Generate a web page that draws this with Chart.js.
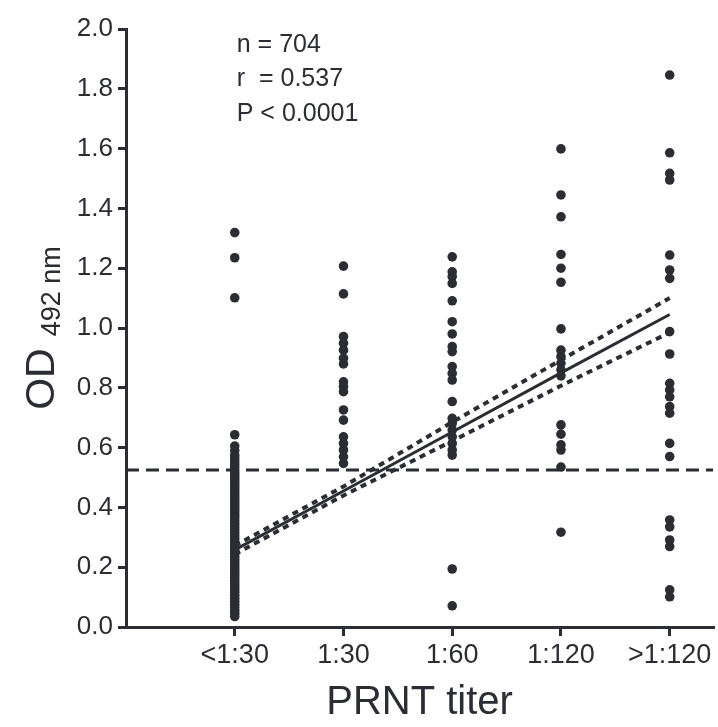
<!DOCTYPE html>
<html>
<head>
<meta charset="utf-8">
<script src="https://cdn.jsdelivr.net/npm/chart.js@4.4.1/dist/chart.umd.min.js"></script>
<style>
  body { margin: 0; background: #ffffff; }
  canvas { display: block; }
</style>
</head>
<body>
<canvas id="grafica" width="718" height="727"></canvas>
<script>
// categorías del eje X
const categorias = ["<1:30", "1:30", "1:60", "1:120", ">1:120"];

// valores de OD 492 nm leídos por columna
const odMenor130 = [
  0.035, 0.045, 0.055, 0.065, 0.075, 0.085, 0.095, 0.105, 0.115, 0.125,
  0.135, 0.145, 0.155, 0.165, 0.175, 0.185, 0.195, 0.205, 0.215, 0.225,
  0.235, 0.245, 0.255, 0.265, 0.275, 0.285, 0.295, 0.305, 0.315, 0.325,
  0.335, 0.345, 0.355, 0.365, 0.375, 0.385, 0.395, 0.405, 0.415, 0.425,
  0.435, 0.445, 0.455, 0.465, 0.475, 0.485, 0.495, 0.505, 0.515, 0.525,
  0.535, 0.545, 0.555, 0.565, 0.575, 0.59, 0.605, 0.643, 1.101, 1.235, 1.319
];
const od130 = [1.207, 1.114, 0.971, 0.949, 0.926, 0.899, 0.88, 0.82, 0.804, 0.787,
  0.726, 0.692, 0.636, 0.614, 0.592, 0.569, 0.547];
const od160 = [1.238, 1.188, 1.172, 1.149, 1.091, 1.021, 0.98, 0.938, 0.921, 0.871,
  0.848, 0.826, 0.754, 0.698, 0.681, 0.659, 0.636, 0.614, 0.592, 0.575, 0.194, 0.071];
const od1120 = [1.599, 1.445, 1.372, 1.246, 1.2, 1.153, 0.997, 0.926, 0.904, 0.882,
  0.86, 0.84, 0.676, 0.645, 0.609, 0.592, 0.535, 0.317];
const odMayor1120 = [1.846, 1.586, 1.517, 1.495, 1.244, 1.194, 1.166, 0.988, 0.913, 0.815,
  0.793, 0.77, 0.737, 0.715, 0.614, 0.57, 0.358, 0.335, 0.291, 0.269, 0.124, 0.101];

// recta de regresión y banda de confianza (una por categoría)
const rectaAjuste = [0.258, 0.455, 0.652, 0.85, 1.045];
const bandaSuperior = [0.272, 0.47, 0.685, 0.893, 1.10];
const bandaInferior = [0.243, 0.44, 0.622, 0.807, 0.985];

// punto de corte (línea discontinua)
const corte = 0.525;

// texto del recuadro
const anotaciones = ["n = 704", "r  = 0.537", "P < 0.0001"];

const COLOR = "#2b2d33";
const FUENTE = "'Liberation Sans', Arial, sans-serif";

// puntos {x, y} a partir de las columnas
const columnas = [odMenor130, od130, od160, od1120, odMayor1120];
const puntos = [];
columnas.forEach((col, i) => {
  col.forEach((v) => puntos.push({ x: i + 1, y: v }));
});

const aLinea = (arr) => arr.map((v, i) => ({ x: i + 1, y: v }));

// plugin para el título del eje Y con subíndice y el texto de estadísticas
const textosExtra = {
  id: "textosExtra",
  afterDraw(chart) {
    const ctx = chart.ctx;
    const area = chart.chartArea;
    const sx = chart.scales.x;
    const sy = chart.scales.y;

    ctx.save();
    ctx.fillStyle = COLOR;

    // título Y: "OD" + subíndice "492 nm"
    ctx.font = "41px " + FUENTE;
    const wOD = ctx.measureText("OD").width;
    ctx.font = "27px " + FUENTE;
    const wSub = ctx.measureText("492 nm").width;
    const hueco = 12;
    const total = wOD + hueco + wSub;
    const centro = (area.top + area.bottom) / 2;
    const inicio = centro + total / 2;

    ctx.textAlign = "left";
    ctx.textBaseline = "alphabetic";
    ctx.save();
    ctx.translate(54, inicio);
    ctx.rotate(-Math.PI / 2);
    ctx.font = "41px " + FUENTE;
    ctx.fillText("OD", 0, 0);
    ctx.restore();

    ctx.save();
    ctx.translate(60, inicio - wOD - hueco);
    ctx.rotate(-Math.PI / 2);
    ctx.font = "27px " + FUENTE;
    ctx.fillText("492 nm", 0, 0);
    ctx.restore();

    // estadísticas
    ctx.font = "25px " + FUENTE;
    ctx.textBaseline = "middle";
    const xTexto = sx.getPixelForValue(1) + 2;
    const yValores = [1.946, 1.833, 1.716];
    anotaciones.forEach((t, i) => {
      ctx.fillText(t, xTexto, sy.getPixelForValue(yValores[i]));
    });

    ctx.restore();
  }
};

const grafica = new Chart(document.getElementById("grafica"), {
  type: "scatter",
  data: {
    datasets: [
      {
        data: [{ x: 0, y: corte }, { x: 5.4, y: corte }],
        showLine: true,
        borderColor: COLOR,
        borderWidth: 3,
        borderDash: [13, 7],
        pointRadius: 0,
        order: 3
      },
      {
        data: puntos,
        backgroundColor: COLOR,
        borderColor: COLOR,
        borderWidth: 0,
        pointRadius: 4.8,
        order: 2
      },
      {
        data: aLinea(rectaAjuste),
        showLine: true,
        borderColor: COLOR,
        borderWidth: 3,
        pointRadius: 0,
        order: 1
      },
      {
        data: aLinea(bandaSuperior),
        showLine: true,
        borderColor: COLOR,
        borderWidth: 4,
        borderDash: [6, 5],
        pointRadius: 0,
        order: 1
      },
      {
        data: aLinea(bandaInferior),
        showLine: true,
        borderColor: COLOR,
        borderWidth: 4,
        borderDash: [6, 5],
        pointRadius: 0,
        order: 1
      }
    ]
  },
  options: {
    responsive: false,
    animation: false,
    layout: { padding: { top: 29, right: 4, left: 0, bottom: 0 } },
    plugins: {
      legend: { display: false },
      tooltip: { enabled: false }
    },
    scales: {
      x: {
        type: "linear",
        min: 0,
        max: 5.4,
        afterBuildTicks: (escala) => {
          escala.ticks = categorias.map((c, i) => ({ value: i + 1 }));
        },
        afterFit: (escala) => { escala.height = 100; },
        border: { display: true, color: COLOR, width: 3 },
        grid: {
          drawOnChartArea: false,
          drawTicks: true,
          tickLength: 9,
          color: COLOR,
          lineWidth: 3
        },
        ticks: {
          padding: 3,
          color: COLOR,
          font: { family: FUENTE, size: 27 },
          maxRotation: 0,
          autoSkip: false,
          callback: (v) => categorias[Math.round(v) - 1] || ""
        },
        title: {
          display: true,
          text: "PRNT titer",
          color: COLOR,
          font: { family: FUENTE, size: 40 },
          padding: { top: 0, bottom: 0 }
        }
      },
      y: {
        min: 0,
        max: 2,
        afterFit: (escala) => { escala.width = 126; },
        border: { display: true, color: COLOR, width: 3 },
        grid: {
          drawOnChartArea: false,
          drawTicks: true,
          tickLength: 8,
          color: COLOR,
          lineWidth: 3
        },
        ticks: {
          stepSize: 0.2,
          padding: 5,
          color: COLOR,
          font: { family: FUENTE, size: 26 },
          callback: (v) => v.toFixed(1)
        }
      }
    }
  },
  plugins: [textosExtra]
});
</script>
</body>
</html>
